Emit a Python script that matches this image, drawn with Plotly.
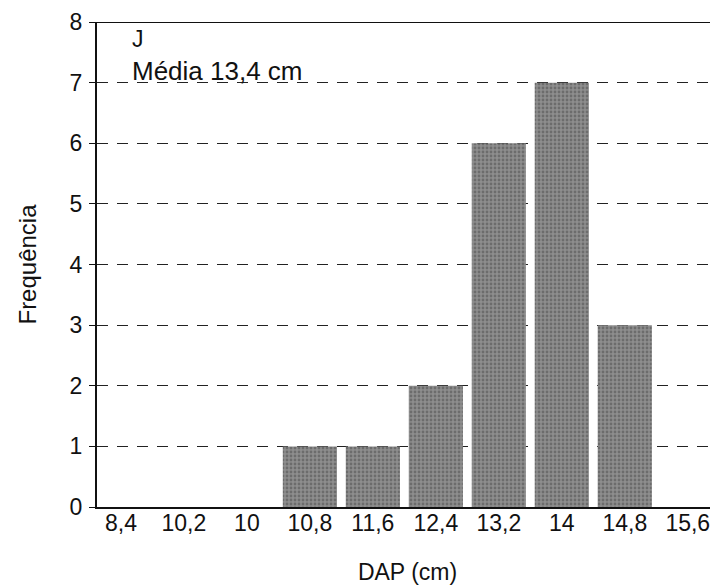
import plotly.graph_objects as go

categories = ["8,4", "10,2", "10", "10,8", "11,6", "12,4", "13,2", "14", "14,8", "15,6"]
frequencies = [0, 0, 0, 1, 1, 2, 6, 7, 3, 0]
y_ticks = [0, 1, 2, 3, 4, 5, 6, 7, 8]
panel_label = "J"
mean_label = "Média 13,4 cm"

font_family = "Liberation Sans, Arial, sans-serif"
fs = 23

fig = go.Figure()
fig.add_trace(go.Bar(
    x=list(range(len(categories))),
    y=frequencies,
    marker=dict(
        color="#7a7a7a",
        line=dict(width=0),
        pattern=dict(shape=".", fgcolor="#4a4a4a", bgcolor="#8e8e8e", size=4, solidity=0.4),
    ),
    width=0.86,
    showlegend=False,
))

# page body has an 8px default margin; compensate so the chart fills the window
fig.update_layout(
    width=710, height=578,
    margin=dict(l=89, r=0, t=14, b=79),
    paper_bgcolor="white", plot_bgcolor="white",
    font=dict(family=font_family, size=fs, color="#111"),
    xaxis=dict(
        automargin=False,
        tickmode="array",
        tickvals=list(range(len(categories))),
        ticktext=categories,
        range=[-0.38, 9.48],
        showgrid=False,
        showline=True, linecolor="#111", linewidth=2,
        ticks="", zeroline=False,
        ticklabelstandoff=-6,
        title=dict(text="DAP (cm)", font=dict(size=fs), standoff=29),
        tickfont=dict(size=fs),
    ),
    yaxis=dict(
        automargin=False,
        range=[0, 8],
        tickvals=y_ticks,
        showgrid=True, gridcolor="#222", gridwidth=1.3, griddash="11px,9px",
        showline=True, linecolor="#111", linewidth=2,
        ticks="outside", ticklen=6, tickcolor="#111",
        zeroline=False,
        ticklabelstandoff=2,
        title=dict(text="Frequência", font=dict(size=fs + 1), standoff=26),
        tickfont=dict(size=fs),
    ),
    shapes=[dict(type="line", xref="paper", yref="y", x0=0, x1=1, y0=8, y1=8,
                 line=dict(color="#111", width=2))],
    annotations=[
        dict(text=panel_label, xref="paper", yref="y", x=0.053, y=7.72, xanchor="left",
             yanchor="middle", showarrow=False, font=dict(size=fs)),
        dict(text=mean_label, xref="paper", yref="y", x=0.053, y=7.2, xanchor="left",
             yanchor="middle", showarrow=False, font=dict(size=fs + 3)),
    ],
)

fig.write_html("out.html")
